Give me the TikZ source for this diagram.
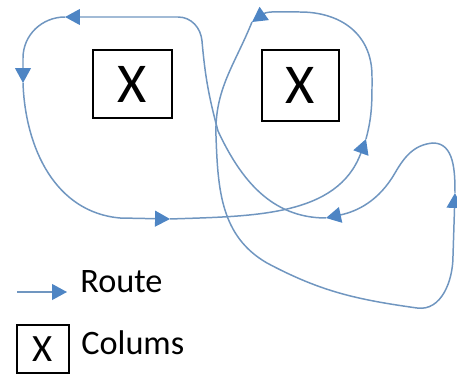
\documentclass[tikz,border=0pt]{standalone}
\usepackage{fontspec}
\setmainfont{Carlito}
\usepackage{tikz}
\usetikzlibrary{arrows.meta,positioning}
\definecolor{routeline}{RGB}{112,150,192}
\definecolor{routetip}{RGB}{78,133,196}

\begin{document}
\begin{tikzpicture}[
  x=0.02cm, y=0.02cm,
  route/.style={draw=routeline, line width=0.85pt, -{Triangle[length=8.5pt, width=9pt, fill=routetip, color=routetip]}},
  colbox/.style={draw=black, line width=0.7pt, inner sep=0pt, font=\fontsize{32}{36}\selectfont},
  legtext/.style={anchor=base west, inner sep=0pt, font=\fontsize{19.5}{22}\selectfont}
]
\useasboundingbox (0,0) rectangle (457,376);
\node[colbox, minimum width=1.58cm, minimum height=1.36cm] (colA) at (132.5,292) {X};
\node[colbox, minimum width=1.54cm, minimum height=1.42cm] (colB) at (300.5,290.5) {X};
\coordinate (a1) at (65,359);
\coordinate (a2) at (23,293);
\coordinate (a3) at (170,157);
\coordinate (a4) at (366,237);
\coordinate (a5) at (252,354);
\coordinate (a6) at (455,183);
\coordinate (a7) at (326,158);
\draw[route] (a1) to[out=180,in=90] (23,318) -- (a2);
\draw[route] (a2) to[out=-88,in=175] (120,158) -- (a3);
\draw[route] (a3) to[out=2,in=-110] (a4);
\draw[route] (a4) to[out=75,in=-90] (372,300) to[out=90,in=0,looseness=1.1] (300,364) to[out=180,in=35] (a5);
\draw[route] (a5) to[out=-112,in=92] (216,240) to[out=-88,in=150] (267,113) to[out=-28,in=172] (417,68) to[out=-8,in=-90] (453,120) -- (a6);
\draw[route] (a6) to[out=90,in=0] (433,233) to[out=185,in=60] (395,203) to[out=240,in=12] (a7);
\draw[route] (a7) to[out=180,in=-65] (218,245) to[out=105,in=-85] (202,335) to[out=95,in=0] (178,359) -- (a1);
\coordinate (legstart) at (17,84);
\coordinate (legend) at (67,84);
\draw[route] (legstart) -- (legend);
\node[legtext] (routelabel) at (80,84) {Route};
\node[colbox, minimum width=1.04cm, minimum height=0.96cm, font=\fontsize{22}{24}\selectfont] (legbox) at (43,27) {X};
\node[legtext] (collabel) at (81,22) {Colums};
\end{tikzpicture}
\end{document}
